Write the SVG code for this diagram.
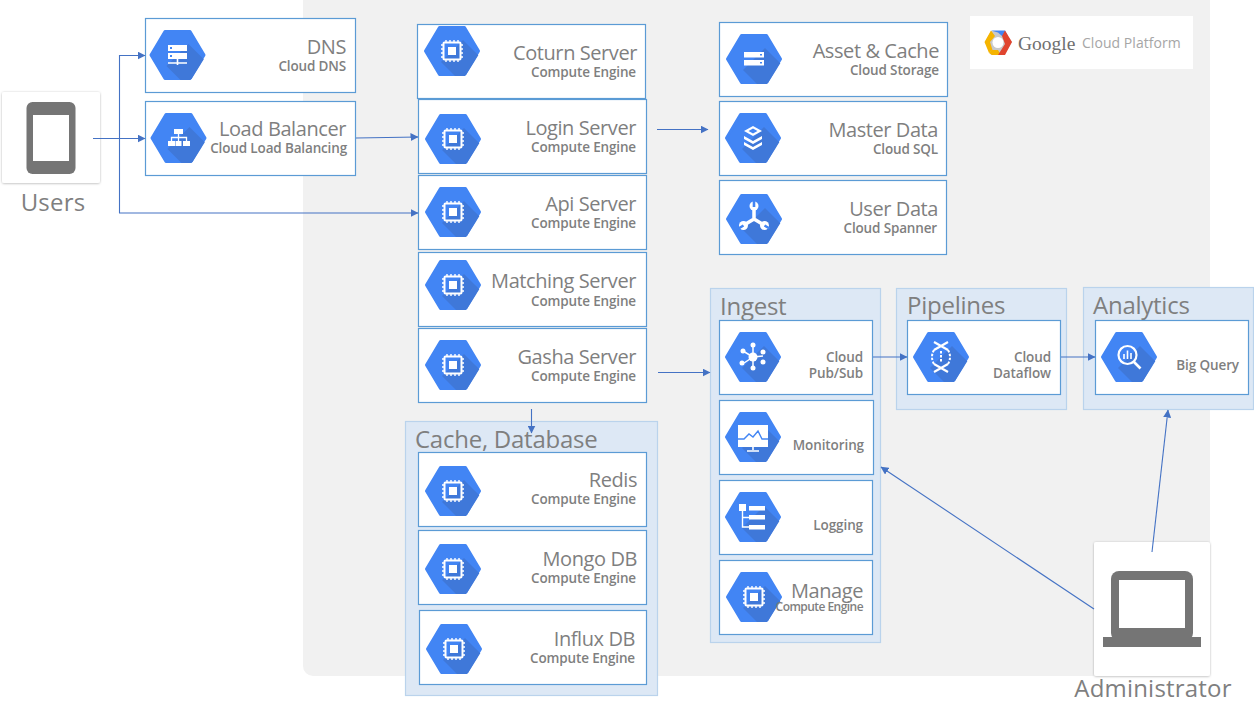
<svg xmlns="http://www.w3.org/2000/svg" width="1254" height="718" viewBox="0 0 1254 718">
<style>
text{font-family:"Open Sans","Noto Sans","Liberation Sans",sans-serif;fill:#7f7f7f}
.t{font-size:20px;text-anchor:end;letter-spacing:-.42px}
.s{font-size:13.5px;font-weight:600;text-anchor:end;letter-spacing:-.15px}
.m{font-size:13.5px;font-weight:600;text-anchor:end;letter-spacing:-.1px}
.g{font-size:24px;letter-spacing:.2px}
.h{font-size:24px;letter-spacing:-.25px}
.b{fill:#fff;stroke:#5b9bd5;stroke-width:1.2}
.c{fill:#dde8f5;stroke:#bad3ec;stroke-width:1.2}
.con{fill:none;stroke:#4472c4;stroke-width:1.1}
.w{fill:#fff}
.ws{fill:none;stroke:#fff;stroke-width:2}
</style>
<defs>
<marker id="a" viewBox="0 0 8 8" refX="7.5" refY="4" markerWidth="8" markerHeight="8" markerUnits="userSpaceOnUse" orient="auto"><path d="M0 0L8 4L0 8Z" fill="#4472c4"/></marker>
<filter id="sh" x="-10%" y="-10%" width="120%" height="120%"><feDropShadow dx="0" dy="0.5" stdDeviation="1" flood-color="#000" flood-opacity=".3"/></filter>
<g id="hex">
<polygon points="-26.5,0 -12.5,-23.5 12.5,-23.5 26.5,0 12.5,23.5 -12.5,23.5" fill="#4285f4" stroke="#4285f4" stroke-width="3" stroke-linejoin="round"/>
<polygon points="-11,11 11,-11 26.3,4.2 14.5,23.2 12.5,25 3,25" fill="#3f78d9"/>
</g>
<g id="chip">
<use href="#hex"/>
<rect x="-8.5" y="-8.5" width="17" height="17" rx="1" class="ws"/>
<rect x="-4" y="-4" width="8" height="8" class="w"/>
<path d="M-6-8.5v-2.5M-2-8.5v-2.5M2-8.5v-2.5M6-8.5v-2.5M-6 8.5v2.5M-2 8.5v2.5M2 8.5v2.5M6 8.5v2.5M-8.5-6h-2.5M-8.5-2h-2.5M-8.5 2h-2.5M-8.5 6h-2.5M8.5-6h2.5M8.5-2h2.5M8.5 2h2.5M8.5 6h2.5" stroke="#fff" stroke-width="1.4" fill="none"/>
</g>
</defs>

<rect x="303" y="-10" width="907" height="686" rx="10" fill="#f1f1f1"/>

<g id="gcp-logo">
<rect x="970" y="16" width="223" height="53" class="w"/>
<polygon points="991,31 1004,31 1012,42 1004,55 991,55 985,42" fill="#c9c9c9"/>
<path d="M991 30.500H1005L1008 36H1002L998 32.500Z" fill="#4285f4"/>
<path d="M991 30.500L984.500 42L989 53L992.500 50L990 42L995 36Z" fill="#f5b400"/>
<path d="M989 53L992 55H1001L998 50H992Z" fill="#f5b400"/>
<path d="M1005 30.500L1012 42L1005 55H998L1005 44L1002 36Z" fill="#e0452f"/>
<circle cx="998" cy="42.500" r="5.500" fill="#fff"/>
<text x="1018" y="49.500" style="font-family:'Liberation Serif',serif;font-size:19.500px;fill:#6f6f6f">Google</text>
<text x="1082" y="48" style="font-size:14px;fill:#a6a6a6;letter-spacing:.05px">Cloud Platform</text>
</g>

<g id="users">
<rect x="2" y="92" width="98" height="91" rx="2" class="w" filter="url(#sh)"/>
<rect x="26.500" y="102" width="49" height="72" rx="6" fill="#757575"/>
<rect x="33" y="115" width="36" height="46" class="w"/>
<text x="53" y="211" class="g" text-anchor="middle">Users</text>
</g>

<g id="administrator">
<rect x="1094" y="542" width="116" height="134" rx="2" class="w" filter="url(#sh)"/>
<rect x="1111" y="571" width="82" height="70" rx="8" fill="#757575"/>
<rect x="1119" y="580" width="66" height="48" class="w"/>
<rect x="1103" y="637" width="98" height="10" fill="#757575"/>
<text x="1153" y="697" class="g" text-anchor="middle">Administrator</text>
</g>

<g id="group-cache">
<rect x="405.500" y="421.500" width="252" height="274" class="c"/>
<text x="415" y="448" class="h">Cache, Database</text>
</g>
<g id="group-ingest">
<rect x="710.500" y="288.500" width="170" height="354" class="c"/>
<text x="720" y="315" class="h">Ingest</text>
</g>
<g id="group-pipelines">
<rect x="896.500" y="288.500" width="170" height="121" class="c"/>
<text x="907" y="314" class="h">Pipelines</text>
</g>
<g id="group-analytics">
<rect x="1083.500" y="287.500" width="170" height="122" class="c"/>
<text x="1093" y="314" class="h">Analytics</text>
</g>

<g id="dns">
<rect x="145.500" y="18.500" width="210" height="74" class="b"/>
<use href="#hex" x="177.500" y="55"/>
<path d="M168 45h19v6h-19zM168 53h19v6h-19z" class="w"/>
<rect x="170" y="47" width="2" height="2" fill="#4285f4"/><rect x="170" y="55" width="2" height="2" fill="#4285f4"/>
<path d="M168 63h19M177.500 59v6" stroke="#fff" stroke-width="1.6"/>
<text x="346" y="54" class="t">DNS</text>
<text x="346" y="71" class="s">Cloud DNS</text>
</g>
<g id="load-balancer">
<rect x="145.500" y="101.500" width="210" height="74" class="b"/>
<use href="#hex" x="178.500" y="138"/>
<path d="M174 129h9v5h-9zM168 141h7v5h-7zM175.500 141h6v5h-6zM183 141h7v5h-7z" class="w"/>
<path d="M178.500 134v7M171.500 141v-3.500h15V141" fill="none" stroke="#fff" stroke-width="1.300"/>
<text x="346" y="136" class="t">Load Balancer</text>
<text x="347" y="153" class="s">Cloud Load Balancing</text>
</g>

<g id="coturn-server">
<rect x="417.500" y="24.500" width="228" height="74" class="b"/>
<use href="#chip" x="452" y="51"/>
<text x="637" y="60" class="t">Coturn Server</text>
<text x="636" y="77" class="s">Compute Engine</text>
</g>
<g id="login-server">
<rect x="418.500" y="99.500" width="228" height="74" class="b"/>
<use href="#chip" x="453" y="139"/>
<text x="636" y="135" class="t">Login Server</text>
<text x="636" y="152" class="s">Compute Engine</text>
</g>
<g id="api-server">
<rect x="418.500" y="175.500" width="228" height="74" class="b"/>
<use href="#chip" x="453" y="212"/>
<text x="636" y="211" class="t">Api Server</text>
<text x="636" y="228" class="s">Compute Engine</text>
</g>
<g id="matching-server">
<rect x="418.500" y="252.500" width="228" height="74" class="b"/>
<use href="#chip" x="453" y="285"/>
<text x="636" y="288" class="t">Matching Server</text>
<text x="636" y="306" class="s">Compute Engine</text>
</g>
<g id="gasha-server">
<rect x="418.500" y="328.500" width="228" height="74" class="b"/>
<use href="#chip" x="453" y="365"/>
<text x="636" y="364" class="t">Gasha Server</text>
<text x="636" y="381" class="s">Compute Engine</text>
</g>

<g id="redis">
<rect x="418.500" y="452.500" width="228" height="74" class="b"/>
<use href="#chip" x="453" y="491"/>
<text x="637" y="487" class="t">Redis</text>
<text x="636" y="504" class="s">Compute Engine</text>
</g>
<g id="mongo-db">
<rect x="418.500" y="530.500" width="228" height="74" class="b"/>
<use href="#chip" x="453" y="569"/>
<text x="637" y="566" class="t">Mongo DB</text>
<text x="636" y="583" class="s">Compute Engine</text>
</g>
<g id="influx-db">
<rect x="419.500" y="610.500" width="227" height="74" class="b"/>
<use href="#chip" x="454" y="649"/>
<text x="635" y="646" class="t">Influx DB</text>
<text x="635" y="663" class="s">Compute Engine</text>
</g>

<g id="asset-cache">
<rect x="719.500" y="22.500" width="228" height="74" class="b"/>
<use href="#hex" x="754" y="59"/>
<path d="M744 52h20v5.500h-20zM744 60h20v5.500h-20z" class="w"/>
<rect x="760" y="54" width="2" height="1.500" fill="#4285f4"/><rect x="760" y="62" width="2" height="1.500" fill="#4285f4"/>
<text x="939" y="58" class="t">Asset &amp; Cache</text>
<text x="939" y="75" class="s">Cloud Storage</text>
</g>
<g id="master-data">
<rect x="719.500" y="101.500" width="227" height="74" class="b"/>
<use href="#hex" x="753" y="138"/>
<path d="M753 126l9 5-9 5-9-5z" class="w"/>
<path d="M744 136l9 5 9-5v3l-9 5-9-5zM744 142l9 5 9-5v3l-9 5-9-5z" class="w"/>
<path d="M753 128.500l4.500 2.500-4.500 2.500-4.500-2.500z" fill="#4285f4"/>
<text x="938" y="137" class="t">Master Data</text>
<text x="938" y="154" class="s">Cloud SQL</text>
</g>
<g id="user-data">
<rect x="719.500" y="180.500" width="227" height="74" class="b"/>
<use href="#hex" x="754" y="219"/>
<path d="M754 219v-12M754 219l-10 6M754 219l10 6" stroke="#fff" stroke-width="3.500" fill="none"/>
<circle cx="754" cy="206" r="4.500" class="w"/><circle cx="743.500" cy="225.500" r="4.500" class="w"/><circle cx="764.500" cy="225.500" r="4.500" class="w"/>
<path d="M754 207v-6M743.500 225.500l-5 3M764.500 225.500l5 3" stroke="#4285f4" stroke-width="2.600" fill="none"/>
<text x="938" y="216" class="t">User Data</text>
<text x="937" y="233" class="s">Cloud Spanner</text>
</g>

<g id="cloud-pubsub">
<rect x="719.500" y="320.500" width="153" height="74" class="b"/>
<use href="#hex" x="753" y="357"/>
<path d="M753 357v-12M753 357l-10-6M753 357l10-1M753 357l-9 6M753 357v9" stroke="#fff" stroke-width="1.500" fill="none"/>
<circle cx="753" cy="357" r="4.500" class="w"/><circle cx="753" cy="345" r="2.500" class="w"/><circle cx="743" cy="351" r="2.500" class="w"/><circle cx="763" cy="352" r="2.500" class="w"/><circle cx="742" cy="363" r="2.500" class="w"/><circle cx="763" cy="362" r="2.500" class="w"/><circle cx="753" cy="368" r="2.500" class="w"/>
<text x="863" y="362" class="m">Cloud</text>
<text x="863" y="378" class="m">Pub/Sub</text>
</g>
<g id="monitoring">
<rect x="719.500" y="400.500" width="154" height="74" class="b"/>
<use href="#hex" x="753" y="437"/>
<path d="M738 425h30v22h-30z" class="w"/>
<path d="M738 439h6l5-5 4 3 5-6 4 8h6" fill="none" stroke="#4285f4" stroke-width="1.400"/>
<path d="M753 447v3M747 451h12" stroke="#fff" stroke-width="1.600"/>
<text x="864" y="450" class="m">Monitoring</text>
</g>
<g id="logging">
<rect x="719.500" y="480.500" width="153" height="74" class="b"/>
<use href="#hex" x="753" y="517"/>
<path d="M739 504h7v7h-7zM749 506h16v4.500h-16zM749 515h16v4.500h-16zM749 525h16v4.500h-16z" class="w"/>
<path d="M742.500 511v16h6.500M742.500 517.500h6.500" fill="none" stroke="#fff" stroke-width="1.400"/>
<text x="863" y="530" class="m">Logging</text>
</g>
<g id="manage">
<rect x="719.500" y="560.500" width="153" height="74" class="b"/>
<use href="#chip" x="754" y="597"/>
<text x="863" y="598" class="t">Manage</text>
<text x="863" y="611" style="font-size:12px;font-weight:600;text-anchor:end;letter-spacing:-.55px">Compute Engine</text>
</g>
<g id="cloud-dataflow">
<rect x="907.500" y="320.500" width="153" height="74" class="b"/>
<use href="#hex" x="941" y="357"/>
<path d="M934 342l14 8M948 342l-14 8M934 372l14-8M948 372l-14-8" stroke="#fff" stroke-width="2.200"/>
<path d="M934 350Q930 357 934 364M948 350Q952 357 948 364M941 351v12" stroke="#fff" stroke-width="2" stroke-dasharray="2.500 1.500" fill="none"/>
<text x="1051" y="362" class="m">Cloud</text>
<text x="1051" y="378" class="m">Dataflow</text>
</g>
<g id="big-query">
<rect x="1095.500" y="320.500" width="153" height="74" class="b"/>
<use href="#hex" x="1129" y="357"/>
<circle cx="1127.500" cy="355" r="9" fill="none" stroke="#fff" stroke-width="2.200"/>
<path d="M1124 354v5M1127.500 350.500v8.500M1131 353v6" stroke="#fff" stroke-width="1.600"/>
<path d="M1134 362l6.500 6.500" stroke="#fff" stroke-width="2.600"/>
<text x="1239" y="370" class="m">Big Query</text>
</g>

<g id="connectors">
<path class="con" d="M93 138.500H145" marker-end="url(#a)"/>
<path class="con" d="M119.500 138.500V55.500H145" marker-end="url(#a)"/>
<path class="con" d="M119.500 138.500V213H418" marker-end="url(#a)"/>
<path class="con" d="M356 138L418 137" marker-end="url(#a)"/>
<path class="con" d="M657 129.500H708" marker-end="url(#a)"/>
<path class="con" d="M658 372.500H710" marker-end="url(#a)"/>
<path class="con" d="M531.500 409V433" marker-end="url(#a)"/>
<path class="con" d="M873 357H907" marker-end="url(#a)"/>
<path class="con" d="M1061 357H1095" marker-end="url(#a)"/>
<path class="con" d="M1094 609L881 467" marker-end="url(#a)"/>
<path class="con" d="M1152 552L1168 410" marker-end="url(#a)"/>
</g>
</svg>
